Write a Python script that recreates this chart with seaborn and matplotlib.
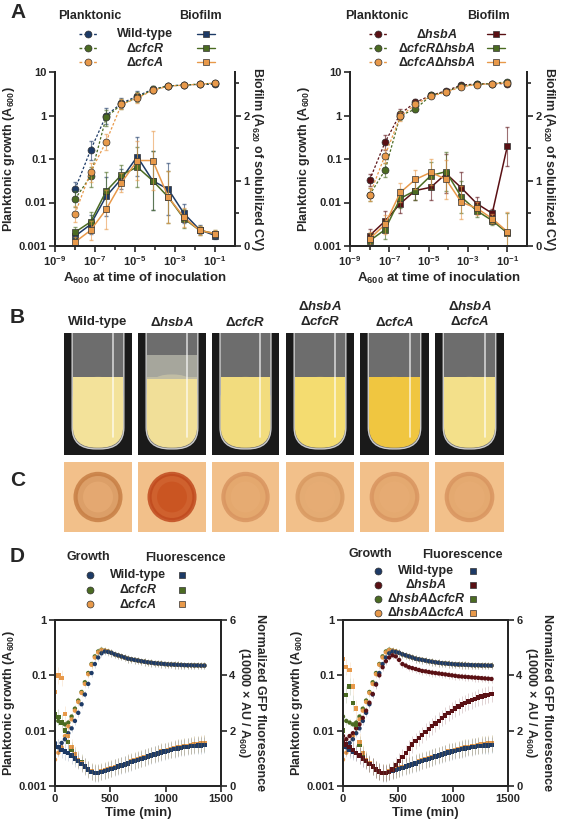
import numpy as np
import pandas as pd
import matplotlib
matplotlib.use("Agg")
import matplotlib.pyplot as plt
import seaborn as sns
from matplotlib.patches import FancyBboxPatch, Rectangle, Circle
from matplotlib.lines import Line2D

# ---------------- data ----------------
inoc = [1e-8, 6e-8, 3.6e-7, 2.1e-6, 1.3e-5, 7.7e-5, 4.6e-4, 2.8e-3, 1.7e-2, 1e-1]

# Panel A left: planktonic (A600)
pl_wt   = [0.02, 0.16, 1.0, 1.9, 2.8, 4.0, 4.8, 5.0, 5.2, 5.2]
pl_cfcR = [0.012, 0.04, 0.9, 1.8, 2.6, 3.9, 4.8, 5.0, 5.3, 5.5]
pl_cfcA = [0.0055, 0.05, 0.25, 1.8, 2.5, 3.8, 4.7, 5.0, 5.2, 5.6]
pl_err_l = [0.5, 0.6, 0.5, 0.3, 0.3, 0.2, 0.1, 0.1, 0.1, 0.1]
# Panel A left: biofilm (A620)
bf_wt   = [0.15, 0.33, 0.76, 1.03, 1.37, 1.0, 0.87, 0.5, 0.25, 0.16]
bf_cfcR = [0.21, 0.37, 0.84, 1.09, 1.21, 1.0, 0.75, 0.42, 0.24, 0.19]
bf_cfcA = [0.06, 0.24, 0.56, 0.97, 1.31, 1.31, 0.75, 0.44, 0.24, 0.19]
bf_err_l = [0.08, 0.15, 0.3, 0.15, 0.3, 0.45, 0.4, 0.15, 0.07, 0.05]

# Panel A right
pl_hsbA  = [0.033, 0.24, 1.1, 2.0, 2.9, 3.7, 5.0, 5.3, 5.4, 5.4]
pl_RhsbA = [0.015, 0.055, 1.0, 1.4, 2.9, 3.5, 4.8, 5.2, 5.4, 6.0]
pl_AhsbA = [0.015, 0.12, 0.95, 1.8, 2.8, 3.4, 4.6, 5.1, 5.4, 5.6]
pl_err_r = [0.4, 0.45, 0.3, 0.2, 0.1, 0.1, 0.1, 0.1, 0.05, 0.05]
bf_hsbA  = [0.16, 0.38, 0.65, 0.85, 0.9, 1.11, 0.89, 0.65, 0.5, 1.53]
bf_RhsbA = [0.08, 0.25, 0.73, 0.85, 1.08, 1.14, 0.75, 0.54, 0.39, 0.2]
bf_AhsbA = [0.11, 0.33, 0.82, 1.02, 1.13, 1.02, 0.67, 0.58, 0.42, 0.22]
bf_err_r = [0.1, 0.15, 0.15, 0.15, 0.2, 0.3, 0.25, 0.1, 0.07, 0.3]

# Panel B/C labels
strains_bc = ["Wild-type", r"$\Delta\mathit{hsbA}$", r"$\Delta\mathit{cfcR}$",
              r"$\Delta\mathit{hsbA}$" + "\n" + r"$\Delta\mathit{cfcR}$",
              r"$\Delta\mathit{cfcA}$",
              r"$\Delta\mathit{hsbA}$" + "\n" + r"$\Delta\mathit{cfcA}$"]

# Panel D: time (min)
time = list(range(0, 1380, 30))
gr_wt = [0.006, 0.005, 0.006, 0.007, 0.009, 0.011, 0.015, 0.021, 0.03, 0.045, 0.07, 0.11,
         0.16, 0.21, 0.25, 0.27, 0.265, 0.255, 0.24, 0.23, 0.22, 0.21, 0.2, 0.195, 0.19,
         0.185, 0.18, 0.176, 0.172, 0.169, 0.166, 0.164, 0.162, 0.16, 0.158, 0.157, 0.156,
         0.155, 0.154, 0.153, 0.152, 0.152, 0.151, 0.151, 0.15, 0.15]
gr_cfcR = [0.018, 0.015, 0.014, 0.013, 0.014, 0.018, 0.025, 0.035, 0.05, 0.075, 0.11, 0.16,
           0.22, 0.27, 0.29, 0.28, 0.27, 0.255, 0.24, 0.23, 0.22, 0.21, 0.2, 0.195, 0.19,
           0.185, 0.18, 0.176, 0.172, 0.169, 0.166, 0.164, 0.162, 0.16, 0.158, 0.157, 0.156,
           0.155, 0.154, 0.153, 0.152, 0.152, 0.151, 0.151, 0.15, 0.15]
gr_cfcA = [0.003, 0.004, 0.005, 0.008, 0.012, 0.016, 0.023, 0.033, 0.048, 0.07, 0.105, 0.155,
           0.21, 0.26, 0.285, 0.28, 0.27, 0.255, 0.24, 0.23, 0.22, 0.21, 0.2, 0.195, 0.19,
           0.185, 0.18, 0.176, 0.172, 0.169, 0.166, 0.164, 0.162, 0.16, 0.158, 0.157, 0.156,
           0.155, 0.154, 0.153, 0.152, 0.152, 0.151, 0.151, 0.15, 0.15]
fl_wt = [1.5, 1.4, 1.3, 1.25, 1.2, 1.1, 1.0, 0.9, 0.8, 0.7, 0.6, 0.5, 0.46, 0.46, 0.5, 0.54,
         0.58, 0.62, 0.66, 0.7, 0.74, 0.78, 0.82, 0.86, 0.9, 0.94, 0.98, 1.02, 1.06, 1.1,
         1.14, 1.18, 1.21, 1.24, 1.27, 1.3, 1.33, 1.36, 1.38, 1.4, 1.42, 1.44, 1.45, 1.46,
         1.47, 1.48]
fl_cfcR = [2.6, 2.5, 2.3, 2.0, 1.6, 1.3, 1.1, 0.95, 0.85, 0.72, 0.62, 0.52, 0.48, 0.48,
           0.52, 0.56, 0.6, 0.64, 0.68, 0.72, 0.76, 0.8, 0.84, 0.88, 0.92, 0.96, 1.0, 1.04,
           1.08, 1.12, 1.16, 1.2, 1.24, 1.27, 1.3, 1.33, 1.36, 1.39, 1.41, 1.43, 1.45, 1.47,
           1.49, 1.5, 1.52, 1.54]
fl_cfcA = [3.4, 4.0, 3.9, 2.6, 1.8, 1.4, 1.15, 0.95, 0.82, 0.7, 0.6, 0.52, 0.48, 0.48,
           0.52, 0.56, 0.6, 0.64, 0.68, 0.72, 0.76, 0.8, 0.84, 0.88, 0.92, 0.96, 1.0, 1.04,
           1.08, 1.12, 1.16, 1.2, 1.24, 1.27, 1.3, 1.33, 1.36, 1.39, 1.41, 1.43, 1.45, 1.47,
           1.5, 1.52, 1.54, 1.56]
gr_hsbA = [0.008, 0.007, 0.008, 0.009, 0.011, 0.013, 0.017, 0.023, 0.032, 0.046, 0.068,
           0.1, 0.14, 0.18, 0.21, 0.23, 0.22, 0.19, 0.16, 0.15, 0.14, 0.135, 0.13, 0.125,
           0.12, 0.118, 0.115, 0.112, 0.11, 0.108, 0.106, 0.104, 0.102, 0.1, 0.098, 0.096,
           0.095, 0.094, 0.093, 0.092, 0.091, 0.09, 0.089, 0.088, 0.087, 0.086]
fl_hsbA = [1.6, 1.5, 1.4, 1.3, 1.2, 1.1, 1.0, 0.9, 0.8, 0.7, 0.6, 0.52, 0.48, 0.47, 0.5,
           0.6, 0.75, 0.9, 1.05, 1.2, 1.35, 1.5, 1.62, 1.74, 1.85, 1.96, 2.06, 2.16, 2.26,
           2.36, 2.46, 2.55, 2.64, 2.72, 2.8, 2.88, 2.95, 3.0, 3.05, 3.1, 3.15, 3.2, 3.24,
           3.27, 3.3, 3.32]
gr_RhsbA = gr_cfcR
gr_AhsbA = gr_cfcA
fl_RhsbA = [2.0, 3.3, 3.6, 3.0, 2.2, 1.5, 1.15, 0.95, 0.82, 0.7, 0.6, 0.52, 0.48, 0.48,
            0.52, 0.56, 0.6, 0.64, 0.68, 0.72, 0.76, 0.8, 0.84, 0.88, 0.92, 0.96, 1.0, 1.04,
            1.08, 1.12, 1.16, 1.2, 1.24, 1.27, 1.3, 1.33, 1.36, 1.39, 1.41, 1.43, 1.45, 1.47,
            1.49, 1.5, 1.52, 1.54]
fl_AhsbA = [4.6, 4.3, 4.2, 3.6, 2.8, 1.6, 1.2, 0.95, 0.82, 0.7, 0.6, 0.52, 0.48, 0.48,
            0.52, 0.56, 0.6, 0.64, 0.68, 0.72, 0.76, 0.8, 0.84, 0.88, 0.92, 0.96, 1.0, 1.04,
            1.08, 1.12, 1.16, 1.2, 1.24, 1.27, 1.3, 1.33, 1.36, 1.39, 1.41, 1.43, 1.45, 1.47,
            1.5, 1.52, 1.54, 1.56]

# ---------------- style ----------------
sns.set_theme(style="ticks")
plt.rcParams["font.family"] = ["Liberation Sans", "DejaVu Sans"]
plt.rcParams["font.weight"] = "bold"
plt.rcParams["axes.labelweight"] = "bold"
plt.rcParams["mathtext.fontset"] = "custom"
plt.rcParams["mathtext.rm"] = "Liberation Sans:bold"
plt.rcParams["mathtext.it"] = "Liberation Sans:italic:bold"
plt.rcParams["mathtext.bf"] = "Liberation Sans:bold"
plt.rcParams["axes.linewidth"] = 1.4

C_WT, C_R, C_A, C_H = "#1d3a66", "#4b6b22", "#e8994a", "#5a1014"

W, H = 565, 827
fig = plt.figure(figsize=(W / 100, H / 100), dpi=100)

def ax_px(x0, y0, x1, y1):
    return fig.add_axes([x0 / W, 1 - y1 / H, (x1 - x0) / W, (y1 - y0) / H])

def ftext(x, y, s, **kw):
    kw.setdefault("ha", "center")
    kw.setdefault("va", "center")
    kw.setdefault("fontweight", "bold")
    fig.text(x / W, 1 - y / H, s, **kw)

def fmarker(x, y, color, marker, ls=None):
    xs = x / W; ys = 1 - y / H
    if ls:
        fig.add_artist(Line2D([xs - 9 / W, xs + 9 / W], [ys, ys], color=color, ls=ls, lw=1,
                              transform=fig.transFigure))
    fig.add_artist(Line2D([xs], [ys], marker=marker, color=color, ms=5, mec="#333333",
                          mew=0.5, transform=fig.transFigure))

LAB = 9

# ---------------- panel A ----------------
def panelA(box, pls, bfs, pe, be):
    ax = ax_px(*box)
    ax2 = ax.twinx()
    for y, c in pls:
        ax.errorbar(inoc, y, yerr=[np.array(y) * np.array(pe) * 0.7, np.array(y) * np.array(pe)],
                    fmt="none", ecolor=c, elinewidth=0.8, capsize=1.5, alpha=0.6)
        sns.lineplot(x=inoc, y=y, ax=ax, color=c, linestyle=(0, (2, 1.5)), lw=0.9,
                     marker="o", markersize=5, markeredgecolor="#333333", markeredgewidth=0.5)
    for y, c in bfs:
        ax2.errorbar(inoc, y, yerr=be, fmt="none", ecolor=c, elinewidth=0.8, capsize=1.5,
                     alpha=0.6)
        sns.lineplot(x=inoc, y=y, ax=ax2, color=c, lw=1.1, marker="s", markersize=5,
                     markeredgecolor="#333333", markeredgewidth=0.5)
    ax.set_xscale("log"); ax.set_yscale("log")
    ax.set_xlim(1e-9, 1); ax.set_ylim(1e-3, 10)
    ax.set_xticks([1e-9, 1e-7, 1e-5, 1e-3, 1e-1])
    ax.set_xticks([1e-8, 1e-6, 1e-4, 1e-2], minor=True)
    ax.xaxis.set_minor_formatter(matplotlib.ticker.NullFormatter())
    ax.set_xticklabels([r"$10^{-9}$", r"$10^{-7}$", r"$10^{-5}$", r"$10^{-3}$", r"$10^{-1}$"])
    ax.set_yticks([1e-3, 1e-2, 1e-1, 1, 10])
    ax.set_yticklabels(["0.001", "0.01", "0.1", "1", "10"])
    ax.yaxis.set_minor_locator(matplotlib.ticker.NullLocator())
    ax2.set_ylim(0, 8 / 3)
    ax2.set_yticks([0, 1, 2]); ax2.set_yticks([0.5, 1.5, 2.5], minor=True)
    ax2.set_yticklabels(["0", "1", "2"])
    for a in (ax, ax2):
        a.tick_params(labelsize=8, width=1.2, length=4, pad=2)
        a.tick_params(which="minor", width=1.2, length=3)
        for s in a.spines.values():
            s.set_linewidth(1.4)
    ax.spines["top"].set_visible(False); ax2.spines["top"].set_visible(False)
    ax.set_xlabel(r"A$_{600}$ at time of inoculation", fontsize=LAB + 0.5, labelpad=2)
    ax.set_ylabel(r"Planktonic growth (A$_{600}$)", fontsize=LAB, labelpad=1)
    ax2.set_ylabel(r"Biofilm (A$_{620}$ of solubilized CV)", fontsize=LAB, rotation=270,
                   labelpad=11)

panelA((55, 72, 235, 246), [(pl_wt, C_WT), (pl_cfcR, C_R), (pl_cfcA, C_A)],
       [(bf_wt, C_WT), (bf_cfcR, C_R), (bf_cfcA, C_A)], pl_err_l, bf_err_l)
panelA((350, 72, 527, 246), [(pl_hsbA, C_H), (pl_RhsbA, C_R), (pl_AhsbA, C_A)],
       [(bf_hsbA, C_H), (bf_RhsbA, C_R), (bf_AhsbA, C_A)], pl_err_r, bf_err_r)

ftext(10, 12, "A", fontsize=15, ha="left")
ftext(90, 16, "Planktonic", fontsize=9)
ftext(200, 16, "Biofilm", fontsize=9)
for i, (lab, c) in enumerate([("Wild-type", C_WT), (r"$\Delta\mathit{cfcR}$", C_R),
                              (r"$\Delta\mathit{cfcA}$", C_A)]):
    y = 34 + i * 14
    fmarker(88, y, c, "o", ls=(0, (2, 1.5)))
    fmarker(206, y, c, "s", ls="-")
    ftext(145, y, lab, fontsize=9)
ftext(377, 16, "Planktonic", fontsize=9)
ftext(488, 16, "Biofilm", fontsize=9)
for i, (lab, c) in enumerate([(r"$\Delta\mathit{hsbA}$", C_H),
                              (r"$\Delta\mathit{cfcR}\Delta\mathit{hsbA}$", C_R),
                              (r"$\Delta\mathit{cfcA}\Delta\mathit{hsbA}$", C_A)]):
    y = 34 + i * 14
    fmarker(378, y, c, "o", ls=(0, (2, 1.5)))
    fmarker(496, y, c, "s", ls="-")
    ftext(437, y, lab, fontsize=9)

# ---------------- panels B and C (schematic photos) ----------------
photo_x = [(64, 132), (138, 206), (212, 279), (286, 354), (360, 429), (435, 504)]
liquid = ["#f3e29a", "#f1df98", "#f2dc7e", "#f4dc70", "#f0c640", "#f3e08a"]
disk_c = ["#d99a62", "#c9501e", "#e2a46a", "#e2a870", "#e2a66c", "#e2a66c"]
ring_c = ["#c77f45", "#c04a1e", "#d99560", "#d99a62", "#d99560", "#d99560"]
ftext(10, 317, "B", fontsize=15, ha="left")
ftext(10, 480, "C", fontsize=15, ha="left")
for i, (x0, x1) in enumerate(photo_x):
    axb = ax_px(x0, 333, x1, 455)
    axb.set_xlim(0, 1); axb.set_ylim(0, 1); axb.axis("off")
    axb.add_patch(Rectangle((0, 0), 1, 1, color="#1a1a1a"))
    axb.add_patch(FancyBboxPatch((0.12, 0.05), 0.76, 1.2, boxstyle="round,pad=0,rounding_size=0.35",
                                 fc="#6d6d6d", ec="#cccccc", lw=1, mutation_aspect=0.5))
    axb.add_patch(FancyBboxPatch((0.13, 0.06), 0.74, 0.58 if i != 1 else 0.6,
                                 boxstyle="round,pad=0,rounding_size=0.35", fc=liquid[i],
                                 ec="none", mutation_aspect=0.5))
    axb.add_patch(Rectangle((0.13, 0.3), 0.74, 0.34, fc=liquid[i], ec="none"))
    if i == 1:
        axb.add_patch(Rectangle((0.13, 0.62), 0.74, 0.2, fc="#b5b5a8", ec="none", alpha=0.8))
    axb.plot([0.72, 0.72], [0.15, 1], color="white", lw=1.2, alpha=0.7)
    lab = strains_bc[i]
    ftext((x0 + x1) / 2, 322 if "\n" not in lab else 314, lab, fontsize=9.5)
    axc = ax_px(x0, 462, x1, 532)
    axc.set_xlim(0, 1); axc.set_ylim(0, 1); axc.set_aspect("auto"); axc.axis("off")
    axc.add_patch(Rectangle((0, 0), 1, 1, color="#f2c08a"))
    axc.add_patch(Circle((0.5, 0.5), 0.33, fc=disk_c[i], ec=ring_c[i], lw=3, alpha=0.85))
    axc.add_patch(Circle((0.5, 0.5), 0.22, fc=disk_c[i] if i == 1 else "#e8ad75",
                         ec="none", alpha=0.7))

# ---------------- panel D ----------------
def panelD(box, grs, fls):
    ax = ax_px(*box)
    ax2 = ax.twinx()
    for y, c in grs:
        ax.errorbar(time, y, yerr=np.array(y) * 0.15, fmt="none", ecolor=c, elinewidth=0.5,
                    alpha=0.25)
        sns.scatterplot(x=time, y=y, ax=ax, color=c, s=10, marker="o", edgecolor="none")
    for y, c in fls:
        ax2.errorbar(time, y, yerr=0.3, fmt="none", ecolor=c, elinewidth=0.5, alpha=0.25)
        sns.scatterplot(x=time, y=y, ax=ax2, color=c, s=10, marker="s", edgecolor="none")
    ax.set_yscale("log"); ax.set_ylim(1e-3, 1); ax.set_xlim(0, 1500)
    ax.set_xticks([0, 500, 1000, 1500])
    ax.set_yticks([1e-3, 1e-2, 1e-1, 1]); ax.set_yticklabels(["0.001", "0.01", "0.1", "1"])
    ax.yaxis.set_minor_locator(matplotlib.ticker.NullLocator())
    ax2.set_ylim(0, 6); ax2.set_yticks([0, 2, 4, 6])
    for a in (ax, ax2):
        a.tick_params(labelsize=8, width=1.2, length=4, pad=2)
    ax.set_xlabel("Time (min)", fontsize=LAB + 0.5, labelpad=2)
    ax.set_ylabel(r"Planktonic growth (A$_{600}$)", fontsize=LAB, labelpad=1)
    ax2.set_ylabel("Normalized GFP fluorescence\n" + r"(10000 $\times$ AU / A$_{600}$)",
                   fontsize=LAB, rotation=270, labelpad=22)

panelD((55, 620, 221, 786), [(gr_cfcR, C_R), (gr_cfcA, C_A), (gr_wt, C_WT)],
       [(fl_cfcR, C_R), (fl_cfcA, C_A), (fl_wt, C_WT)])
panelD((343, 620, 508, 786), [(gr_RhsbA, C_R), (gr_AhsbA, C_A), (gr_wt, C_WT), (gr_hsbA, C_H)],
       [(fl_RhsbA, C_R), (fl_AhsbA, C_A), (fl_wt, C_WT), (fl_hsbA, C_H)])

ftext(10, 556, "D", fontsize=15, ha="left")
ftext(88, 557, "Growth", fontsize=9)
ftext(185, 558, "Fluorescence", fontsize=9)
for i, (lab, c) in enumerate([("Wild-type", C_WT), (r"$\Delta\mathit{cfcR}$", C_R),
                              (r"$\Delta\mathit{cfcA}$", C_A)]):
    y = 575 + i * 14.5
    fmarker(90, y, c, "o")
    fmarker(182, y, c, "s")
    ftext(138, y, lab, fontsize=9)
ftext(370, 554, "Growth", fontsize=9)
ftext(462, 555, "Fluorescence", fontsize=9)
for i, (lab, c) in enumerate([("Wild-type", C_WT), (r"$\Delta\mathit{hsbA}$", C_H),
                              (r"$\Delta\mathit{hsbA}\Delta\mathit{cfcR}$", C_R),
                              (r"$\Delta\mathit{hsbA}\Delta\mathit{cfcA}$", C_A)]):
    y = 571 + i * 14
    fmarker(378, y, c, "o")
    fmarker(473, y, c, "s")
    ftext(426, y, lab, fontsize=9)

fig.savefig("out.png", dpi=100)
